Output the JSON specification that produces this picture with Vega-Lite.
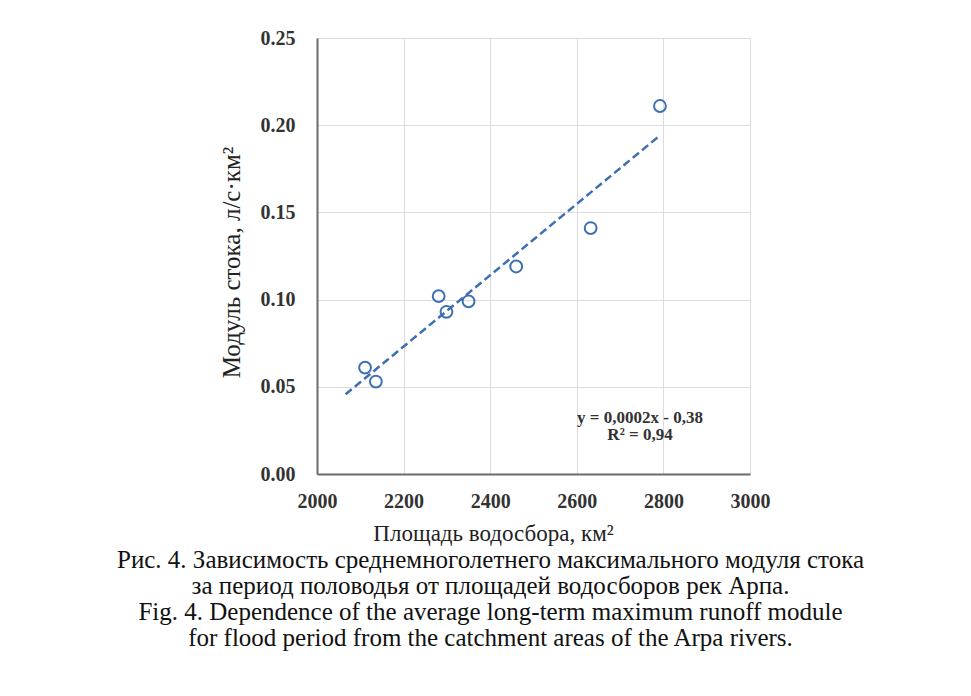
{
  "$schema": "https://vega.github.io/schema/vega-lite/v6.json",
  "width": 433,
  "height": 436,
  "autosize": {"type": "none"},
  "padding": {"left": 317, "top": 38, "right": 221, "bottom": 222},
  "background": "white",
  "config": {
    "view": {"stroke": "#d9d9d9", "strokeWidth": 1},
    "font": "Liberation Serif"
  },
  "title": {
    "text": [
      "Рис. 4. Зависимость среднемноголетнего максимального модуля стока",
      "за период половодья от площадей водосборов рек Арпа.",
      "Fig. 4. Dependence of the average long-term maximum runoff module",
      "for flood period from the catchment areas of the Arpa rivers."
    ],
    "orient": "bottom",
    "anchor": "middle",
    "frame": "group",
    "dx": -43,
    "offset": 3,
    "font": "Liberation Serif",
    "fontSize": 25,
    "fontWeight": "normal",
    "lineHeight": 26,
    "color": "#111111"
  },
  "datasets": {
    "pts": [
      {"area": 2111, "mod": 0.061},
      {"area": 2136, "mod": 0.053},
      {"area": 2281, "mod": 0.102},
      {"area": 2299, "mod": 0.093},
      {"area": 2350, "mod": 0.099},
      {"area": 2460, "mod": 0.119},
      {"area": 2632, "mod": 0.141},
      {"area": 2792, "mod": 0.211}
    ],
    "trend": [
      {"area": 2066, "mod": 0.0457},
      {"area": 2790, "mod": 0.1937}
    ],
    "eq": [
      {"area": 2746, "mod": 0.032, "label": "y = 0,0002x - 0,38"},
      {"area": 2746, "mod": 0.0222, "label": "R² = 0,94"}
    ]
  },
  "encoding": {
    "x": {
      "field": "area",
      "type": "quantitative",
      "scale": {"domain": [2000, 3000], "nice": false, "zero": false},
      "axis": {
        "title": "Площадь водосбора, км²",
        "values": [2000, 2200, 2400, 2600, 2800, 3000],
        "format": "d",
        "grid": true,
        "gridColor": "#dcdcdc",
        "domainColor": "#6b6b6b",
        "domainWidth": 2,
        "ticks": false,
        "labelPadding": 17,
        "labelFont": "Liberation Serif",
        "labelFontSize": 20,
        "labelFontWeight": "bold",
        "labelColor": "#333333",
        "labelFlush": false,
        "titleFont": "Liberation Serif",
        "titleFontSize": 23,
        "titleFontWeight": "normal",
        "titleColor": "#222222",
        "titleX": 176,
        "titleY": 66,
        "titleBaseline": "alphabetic",
        "titleAlign": "center"
      }
    },
    "y": {
      "field": "mod",
      "type": "quantitative",
      "scale": {"domain": [0, 0.25], "nice": false},
      "axis": {
        "title": "Модуль стока, л/с·км²",
        "values": [0, 0.05, 0.1, 0.15, 0.2, 0.25],
        "format": ".2f",
        "grid": true,
        "gridColor": "#dcdcdc",
        "domainColor": "#6b6b6b",
        "domainWidth": 2,
        "ticks": false,
        "labelPadding": 22,
        "labelFont": "Liberation Serif",
        "labelFontSize": 20,
        "labelFontWeight": "bold",
        "labelColor": "#333333",
        "labelFlush": false,
        "titleFont": "Liberation Serif",
        "titleFontSize": 25,
        "titleFontWeight": "normal",
        "titleColor": "#222222",
        "titleAngle": -90,
        "titleX": -86,
        "titleY": 224,
        "titleBaseline": "middle",
        "titleAlign": "center"
      }
    }
  },
  "layer": [
    {
      "data": {"name": "trend"},
      "mark": {"type": "line", "color": "#3d6fb3", "strokeWidth": 2.5, "strokeDash": [8, 4]}
    },
    {
      "data": {"name": "pts"},
      "mark": {"type": "point", "shape": "circle", "filled": false, "color": "#3d6fb3", "strokeWidth": 2, "size": 140, "opacity": 1}
    },
    {
      "data": {"name": "eq"},
      "mark": {"type": "text", "font": "Liberation Serif", "fontSize": 17, "fontWeight": "bold", "color": "#333333", "align": "center", "baseline": "middle"},
      "encoding": {"text": {"field": "label"}}
    }
  ]
}
